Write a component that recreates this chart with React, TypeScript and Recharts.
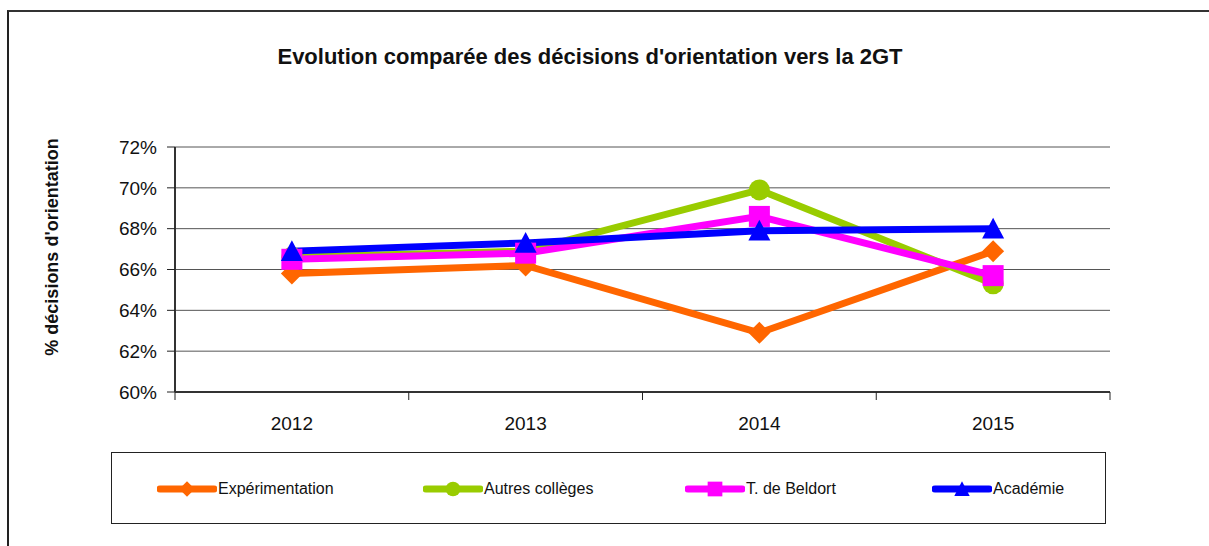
import React from 'react';
import { LineChart, Line, XAxis, YAxis, CartesianGrid } from 'recharts';

// years on the x axis
const years = [2012, 2013, 2014, 2015];

// values in %
const experimentation = [65.8, 66.2, 62.9, 66.9];
const autresColleges = [66.6, 66.9, 69.9, 65.3];
const beldort = [66.5, 66.8, 68.6, 65.7];
const academie = [66.9, 67.3, 67.9, 68.0];

const yTicks = [60, 62, 64, 66, 68, 70, 72];
const xTicks = [2011.5, 2012, 2012.5, 2013, 2013.5, 2014, 2014.5, 2015, 2015.5];

const seriesNames = ['Expérimentation', 'Autres collèges', 'T. de Beldort', 'Académie'];
const seriesKeys = ['exp', 'autres', 'beldort', 'academie'];
const seriesColors = ['#FF6600', '#99CC00', '#FF00FF', '#0000FF'];
const seriesShapes = ['diamond', 'circle', 'square', 'triangle'];

const data = years.map((year, i) => ({
  year,
  exp: experimentation[i],
  autres: autresColleges[i],
  beldort: beldort[i],
  academie: academie[i],
}));

const FONT = '"Liberation Sans", Arial, sans-serif';

function Marker({ cx, cy, shape, color, s = 1 }: any) {
  if (cx == null || cy == null) return null;
  if (shape === 'diamond') {
    const r = 11 * s;
    return <polygon points={`${cx},${cy - r} ${cx + r},${cy} ${cx},${cy + r} ${cx - r},${cy}`} fill={color} />;
  }
  if (shape === 'circle') return <circle cx={cx} cy={cy} r={10.5 * s} fill={color} />;
  if (shape === 'square') {
    const h = 10.5 * s;
    return <rect x={cx - h} y={cy - h} width={h * 2} height={h * 2} fill={color} />;
  }
  const w = 11 * s;
  return <polygon points={`${cx},${cy - w} ${cx + w},${cy + w * 0.9} ${cx - w},${cy + w * 0.9}`} fill={color} />;
}

const XTick = ({ x, y, payload }: any) => {
  const v = payload.value;
  if (Number.isInteger(v)) {
    return (
      <text x={x} y={y + 38} textAnchor="middle" fontSize={19} fill="#111" fontFamily={FONT}>
        {v}
      </text>
    );
  }
  return <line x1={x} y1={y} x2={x} y2={y + 8} stroke="#222" strokeWidth={1} />;
};

function LegendBox() {
  const offsets = [45, 311, 573, 820];
  return (
    <div
      style={{
        position: 'absolute',
        left: 111,
        top: 452,
        width: 993,
        height: 70,
        border: '1px solid #222',
        fontFamily: FONT,
        fontSize: 16,
        color: '#111',
      }}
    >
      {seriesNames.map((name, i) => (
        <div key={name} style={{ position: 'absolute', left: offsets[i], top: 26, display: 'flex', alignItems: 'center' }}>
          <svg width={60} height={20}>
            <line x1={3} y1={10} x2={57} y2={10} stroke={seriesColors[i]} strokeWidth={7} strokeLinecap="round" />
            <Marker cx={30} cy={10} shape={seriesShapes[i]} color={seriesColors[i]} s={0.7} />
          </svg>
          <span style={{ marginLeft: 1 }}>{name}</span>
        </div>
      ))}
    </div>
  );
}

export default function App() {
  return (
    <div style={{ position: 'absolute', left: 0, top: 0, width: 1209, height: 546, background: '#fff', overflow: 'hidden' }}>
      <div
        style={{
          position: 'absolute',
          left: 7,
          top: 10,
          width: 1300,
          height: 700,
          borderLeft: '2px solid #222',
          borderTop: '2px solid #333',
        }}
      />
      <div
        style={{
          position: 'absolute',
          left: 0,
          width: 1180,
          top: 44,
          textAlign: 'center',
          fontFamily: FONT,
          fontWeight: 'bold',
          fontSize: 22,
          color: '#111',
        }}
      >
        Evolution comparée des décisions d'orientation vers la 2GT
      </div>
      <div
        style={{
          position: 'absolute',
          left: 52,
          top: 247,
          transform: 'translate(-50%, -50%) rotate(-90deg)',
          whiteSpace: 'nowrap',
          fontFamily: FONT,
          fontWeight: 'bold',
          fontSize: 18,
          color: '#111',
        }}
      >
        % décisions d'orientation
      </div>
      <div style={{ position: 'absolute', left: 0, top: 0 }}>
        <LineChart width={1209} height={546} data={data} margin={{ top: 147, right: 99, bottom: 124, left: 115 }}>
          <CartesianGrid vertical={false} stroke="#555" strokeWidth={1} />
          <XAxis
            dataKey="year"
            type="number"
            domain={[2011.5, 2015.5]}
            ticks={xTicks}
            interval={0}
            tickLine={false}
            tickSize={0}
            tickMargin={0}
            height={30}
            axisLine={{ stroke: '#333', strokeWidth: 2 }}
            tick={<XTick />}
          />
          <YAxis
            domain={[60, 72]}
            ticks={yTicks}
            interval={0}
            width={60}
            tickSize={8}
            tickMargin={10}
            tickLine={{ stroke: '#222' }}
            axisLine={{ stroke: '#333', strokeWidth: 2 }}
            tickFormatter={(v) => `${v}%`}
            tick={{ fontSize: 19, fill: '#111', fontFamily: FONT }}
          />
          <YAxis
            yAxisId="r"
            orientation="right"
            domain={[60, 72]}
            width={0}
            tick={false}
            tickLine={false}
            axisLine={{ stroke: '#111', strokeWidth: 1 }}
          />
          {seriesKeys.map((key, i) => (
            <Line
              key={key}
              type="linear"
              dataKey={key}
              name={seriesNames[i]}
              stroke={seriesColors[i]}
              strokeWidth={7}
              dot={(p: any) => <Marker key={`${key}-${p.index}`} cx={p.cx} cy={p.cy} shape={seriesShapes[i]} color={seriesColors[i]} />}
              activeDot={false}
              isAnimationActive={false}
            />
          ))}
        </LineChart>
      </div>
      <LegendBox />
    </div>
  );
}
